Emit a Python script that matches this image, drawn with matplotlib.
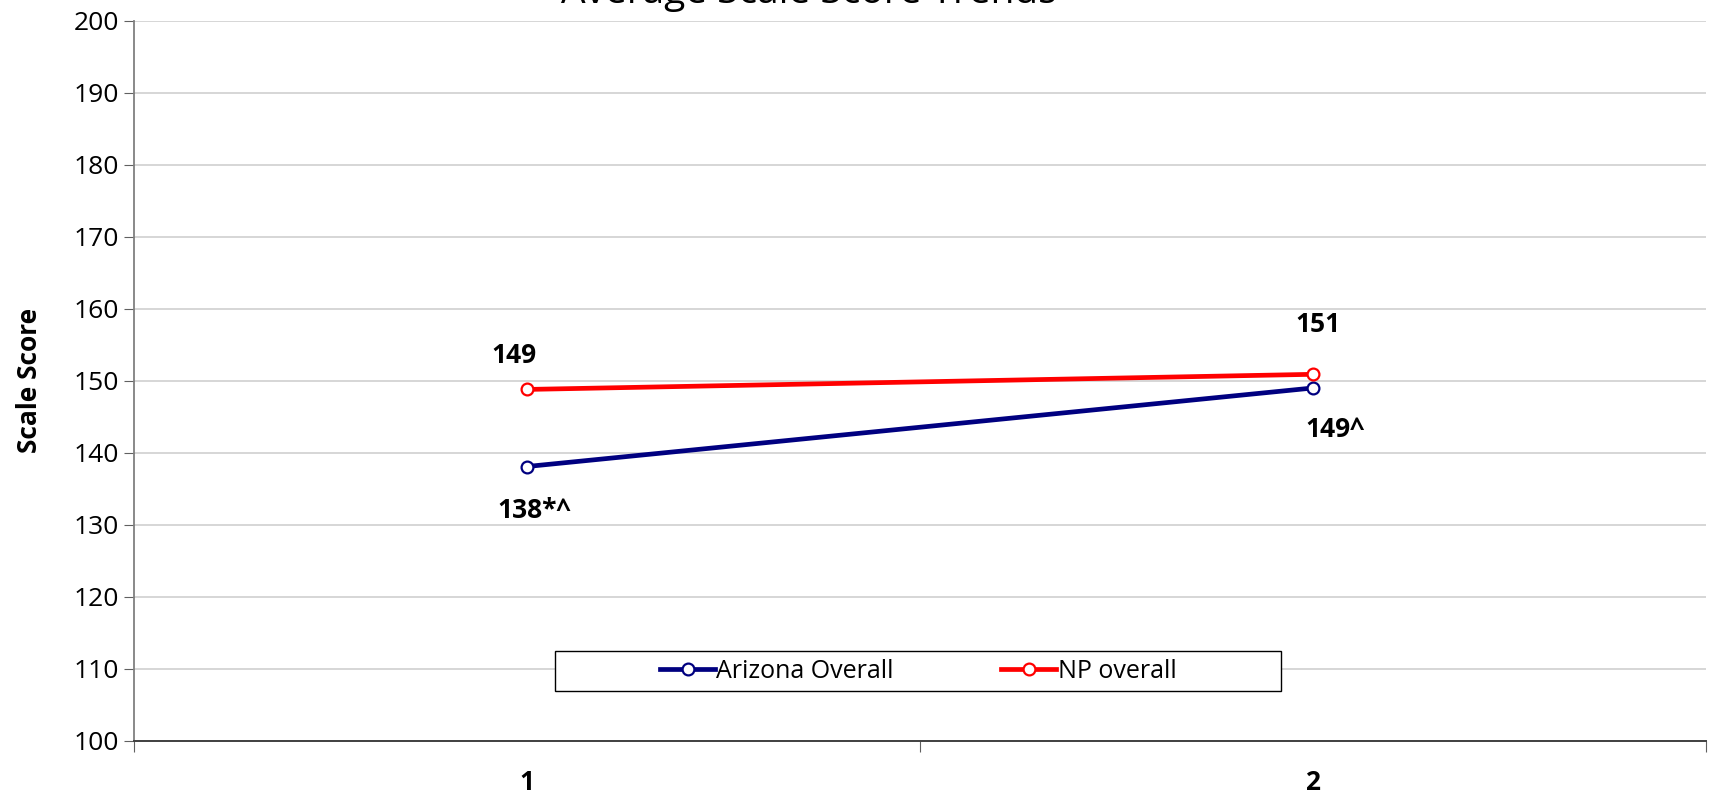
import matplotlib
matplotlib.use("Agg")
import matplotlib.pyplot as plt
from matplotlib.patches import Rectangle
from matplotlib.ticker import FixedLocator

plt.rcParams['font.family'] = ['Open Sans', 'DejaVu Sans']

categories = ["1", "2"]
arizona = [138.1, 149.0]
arizona_marks = ["*^", "^"]
np_overall = [148.8, 150.9]
np_marks = ["", ""]
y_ticks = list(range(100, 201, 10))

# label offsets in points (dx, dy)
arizona_offsets = [(5, -22), (16, -20)]
np_offsets = [(-9, 15), (4, 26)]

fig = plt.figure(figsize=(17.09, 7.93), dpi=100)
ax = fig.add_axes([0.0784, 0.0656, 0.9196, 0.9084])

x = [1, 2]
ax.plot(x, arizona, color="#000080", lw=3.4, marker="o", ms=8.5,
        mfc="white", mec="#000080", mew=1.6, label="Arizona Overall", zorder=3)
ax.plot(x, np_overall, color="#ff0000", lw=3.4, marker="o", ms=8.5,
        mfc="white", mec="#ff0000", mew=1.6, label="NP overall", zorder=3)

for xi, v, s, off in zip(x, arizona, arizona_marks, arizona_offsets):
    ax.annotate(f"{v:.0f}{s}", (xi, v), xytext=off, textcoords="offset points",
                ha="center", va="top", fontsize=19, fontweight="bold")
for xi, v, s, off in zip(x, np_overall, np_marks, np_offsets):
    ax.annotate(f"{v:.0f}{s}", (xi, v), xytext=off, textcoords="offset points",
                ha="center", va="bottom", fontsize=19, fontweight="bold")

ax.set_xlim(0.5, 2.5)
ax.set_ylim(100, 200)
ax.set_yticks(y_ticks)
ax.tick_params(axis="y", labelsize=19, length=7, color="#606060", pad=4)
ax.xaxis.set_major_locator(FixedLocator([0.5, 1.5, 2.5]))
ax.xaxis.set_minor_locator(FixedLocator(x))
ax.set_xticklabels([], minor=False)
ax.set_xticklabels(categories, minor=True, fontsize=19, fontweight="bold")
ax.tick_params(axis="x", which="major", length=8, color="#606060")
ax.tick_params(axis="x", which="minor", length=0, pad=20)

ax.grid(axis="y", color="#d0d0d0", lw=1.2)
ax.set_axisbelow(True)
for side in ("top", "right"):
    ax.spines[side].set_visible(False)
ax.spines["left"].set_color("#808080")
ax.spines["left"].set_linewidth(1.3)
ax.spines["bottom"].set_color("#404040")
ax.spines["bottom"].set_linewidth(1.4)

ax.set_ylabel("Scale Score", fontsize=19, fontweight="bold", labelpad=22)

# legend box drawn separately so the entries sit centred inside it
ax.add_patch(Rectangle((0.268, 0.069), 0.462, 0.056, transform=ax.transAxes,
                       facecolor="white", edgecolor="black", lw=1.0, zorder=4))
leg = ax.legend(loc="center", bbox_to_anchor=(0.499, 0.097), ncol=2,
                frameon=False, fontsize=18, handlelength=2.2,
                handletextpad=0.05, columnspacing=4.3, borderaxespad=0)
leg.set_zorder(5)

fig.text(0.473, 0.9965, "Average Scale Score Trends", ha="center",
         va="baseline", fontsize=28)

fig.savefig("out.png", dpi=100)
